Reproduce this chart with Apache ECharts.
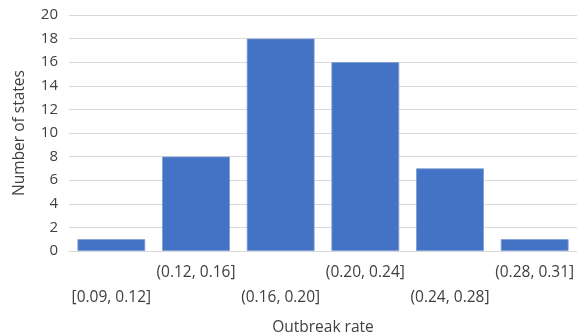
<!DOCTYPE html>
<html>
<head>
<meta charset="utf-8">
<script src="https://cdn.jsdelivr.net/npm/echarts@6/dist/echarts.min.js"></script>
<style>
  html, body { margin: 0; padding: 0; background: #fff; }
  #chart { width: 579px; height: 335px; }
</style>
</head>
<body>
<div id="chart"></div>
<script>
// Histogram of outbreak rates across states
const categories = ['[0.09, 0.12]', '(0.12, 0.16]', '(0.16, 0.20]', '(0.20, 0.24]', '(0.24, 0.28]', '(0.28, 0.31]'];
const counts = [1, 8, 18, 16, 7, 1];
const yTicks = { min: 0, max: 20, interval: 2 };

const fontFamily = '"Open Sans", "Noto Sans", sans-serif';
const chart = echarts.init(document.getElementById('chart'));
chart.setOption({
  animation: false,
  grid: { left: 69, right: 2, top: 15, bottom: 84, containLabel: false, outerBoundsMode: 'none' },
  xAxis: {
    type: 'category',
    data: categories,
    name: 'Outbreak rate',
    nameLocation: 'middle',
    nameGap: 69,
    nameTextStyle: { color: '#404040', fontSize: 15.5, fontFamily },
    axisTick: { show: false },
    axisLine: { lineStyle: { color: '#d9d9d9' } },
    axisLabel: {
      interval: 0,
      margin: 9,
      color: '#404040',
      fontSize: 15.5,
      fontFamily,
      lineHeight: 25,
      // alternate labels drop to a second row
      formatter: (v, i) => (i % 2 === 0 ? '\n' + v : v + '\n')
    }
  },
  yAxis: {
    type: 'value',
    min: yTicks.min,
    max: yTicks.max,
    interval: yTicks.interval,
    name: 'Number of states',
    nameLocation: 'middle',
    nameGap: 41,
    nameTextStyle: { color: '#404040', fontSize: 15.5, fontFamily },
    axisLabel: { color: '#404040', fontSize: 15, fontFamily, margin: 11 },
    axisLine: { show: false },
    axisTick: { show: false },
    splitLine: { lineStyle: { color: '#d9d9d9' } }
  },
  series: [{
    type: 'bar',
    data: counts,
    barCategoryGap: '20%',
    itemStyle: { color: '#4472c4', borderColor: '#7a9bd6', borderWidth: 0.8 }
  }]
});
</script>
</body>
</html>
